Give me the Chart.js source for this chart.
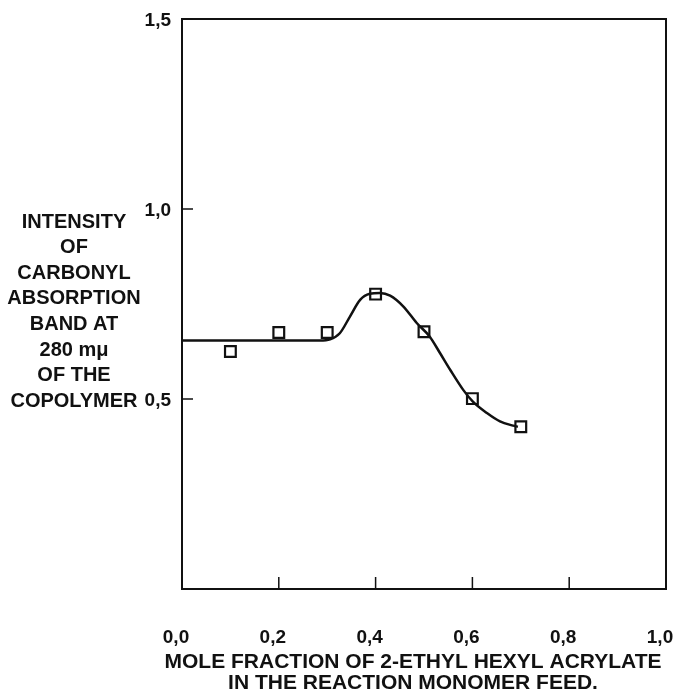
<!DOCTYPE html>
<html>
<head>
<meta charset="utf-8">
<script src="https://cdn.jsdelivr.net/npm/chart.js@4.4.1/dist/chart.umd.min.js"></script>
<style>
	html, body { margin: 0; padding: 0; background: #fff; }
	#wrap { width: 677px; height: 689px; }
</style>
</head>
<body>
<div id="wrap"><canvas id="chart" width="677" height="689"></canvas></div>
<script>
// measured points (squares)
var pointX = [0.1, 0.2, 0.3, 0.4, 0.5, 0.6, 0.7];
var pointY = [0.625, 0.675, 0.675, 0.776, 0.677, 0.501, 0.427];

// hand-drawn curve
var curveX = [0, 0.10, 0.20, 0.285, 0.306, 0.326, 0.347, 0.368, 0.388, 0.409, 0.430, 0.457, 0.485, 0.512, 0.533, 0.554, 0.581, 0.601, 0.630, 0.657, 0.684, 0.694];
var curveY = [0.654, 0.654, 0.654, 0.654, 0.657, 0.673, 0.717, 0.761, 0.777, 0.779, 0.772, 0.744, 0.700, 0.664, 0.621, 0.577, 0.524, 0.493, 0.463, 0.441, 0.430, 0.427];

var xTicks = [0, 0.2, 0.4, 0.6, 0.8, 1.0];
var yTicks = [0.5, 1.0, 1.5];

var yTitle = ['INTENSITY', 'OF', 'CARBONYL', 'ABSORPTION', 'BAND AT', '280 m\u03bc', 'OF THE', 'COPOLYMER'];
var xTitle = ['MOLE FRACTION OF 2-ETHYL HEXYL ACRYLATE', 'IN THE REACTION MONOMER FEED.'];

function toXY(xs, ys) {
	return xs.map(function(x, i) { return { x: x, y: ys[i] }; });
}

function comma(v) {
	return v.toFixed(1).replace('.', ',');
}

var ink = '#111';
var font = 'Arial, "Liberation Sans", Helvetica, sans-serif';

var frame = {
	id: 'frame',
	afterDraw: function(chart) {
		var ctx = chart.ctx;
		var a = chart.chartArea;
		var xs = chart.scales.x, ys = chart.scales.y;
		ctx.save();
		ctx.strokeStyle = ink;
		ctx.lineWidth = 2;
		ctx.strokeRect(a.left, a.top, a.right - a.left, a.bottom - a.top);

		// inward tick marks
		ctx.lineWidth = 1.5;
		ctx.beginPath();
		xTicks.forEach(function(v) {
			var px = xs.getPixelForValue(v);
			ctx.moveTo(px, a.bottom);
			ctx.lineTo(px, a.bottom - 12);
		});
		yTicks.forEach(function(v) {
			var py = ys.getPixelForValue(v);
			ctx.moveTo(a.left, py);
			ctx.lineTo(a.left + 11, py);
		});
		ctx.stroke();

		// axis titles
		ctx.fillStyle = ink;
		ctx.textAlign = 'center';
		ctx.textBaseline = 'middle';
		ctx.font = 'bold 20px ' + font;
		yTitle.forEach(function(t, i) {
			ctx.fillText(t, 74, 222 + i * 25.6);
		});
		ctx.font = 'bold 21px ' + font;
		xTitle.forEach(function(t, i) {
			ctx.fillText(t, 413, 662 + i * 21.5);
		});
		ctx.restore();
	}
};

var ctx = document.getElementById('chart').getContext('2d');
var chart = new Chart(ctx, {
	type: 'scatter',
	data: {
		datasets: [{
			data: toXY(curveX, curveY),
			showLine: true,
			borderColor: ink,
			borderWidth: 2.5,
			pointRadius: 0,
			cubicInterpolationMode: 'monotone',
			fill: false
		}, {
			data: toXY(pointX, pointY),
			showLine: false,
			pointStyle: 'rect',
			pointRadius: 7.6,
			pointBackgroundColor: '#fff',
			pointBorderColor: ink,
			pointBorderWidth: 2.2
		}]
	},
	options: {
		responsive: false,
		animation: false,
		events: [],
		layout: { padding: { top: 19, right: 11, left: 0, bottom: 0 } },
		plugins: {
			legend: { display: false },
			tooltip: { enabled: false }
		},
		scales: {
			x: {
				type: 'linear',
				min: 0, max: 1,
				grid: { display: false },
				border: { display: false },
				afterFit: function(s) {
					s.height = 100;
					s.paddingLeft = 0;
					s.paddingRight = 0;
				},
				afterBuildTicks: function(s) {
					s.ticks = xTicks.map(function(v) { return { value: v }; });
				},
				ticks: {
					padding: 29,
					labelOffset: -6,
					maxRotation: 0,
					color: ink,
					font: { family: font, size: 19, weight: 'bold' },
					callback: function(v) { return comma(v); }
				}
			},
			y: {
				type: 'linear',
				min: 0, max: 1.5,
				grid: { display: false },
				border: { display: false },
				afterFit: function(s) {
					s.width = 182;
					s.paddingTop = 0;
					s.paddingBottom = 0;
				},
				afterBuildTicks: function(s) {
					s.ticks = yTicks.map(function(v) { return { value: v }; });
				},
				ticks: {
					padding: 3,
					labelOffset: 2,
					color: ink,
					font: { family: font, size: 19, weight: 'bold' },
					callback: function(v) { return comma(v); }
				}
			}
		}
	},
	plugins: [frame]
});
</script>
</body>
</html>
